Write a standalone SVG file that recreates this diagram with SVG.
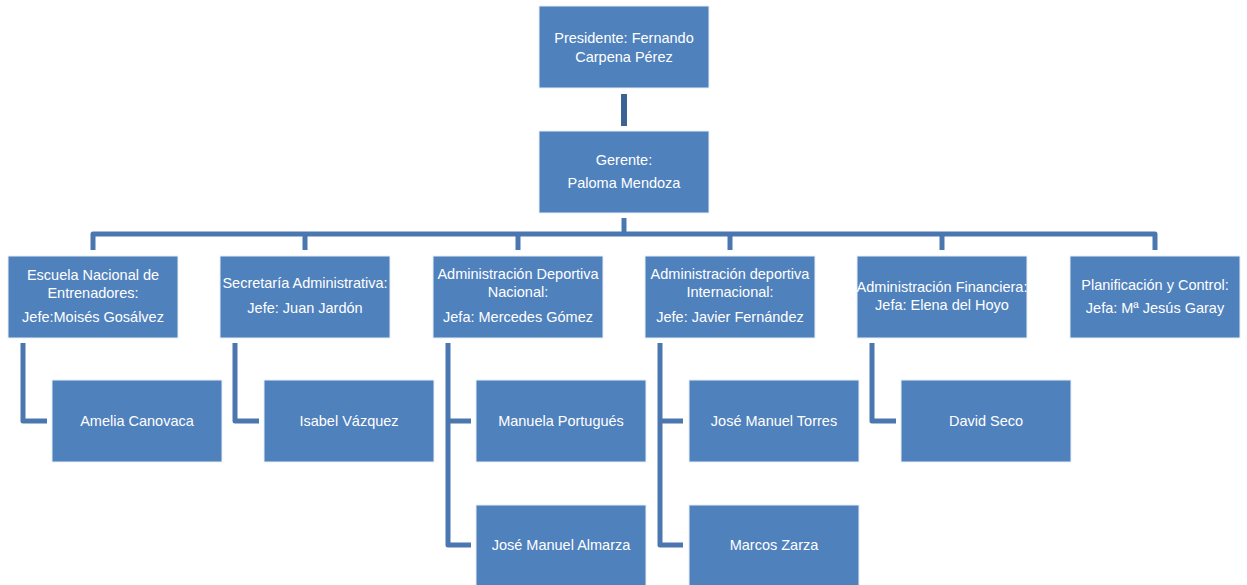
<svg xmlns="http://www.w3.org/2000/svg" width="1247" height="585" viewBox="0 0 1247 585">
<style>
.box{fill:#4f81bd;stroke:#e8eef7;stroke-width:1}
.t{font-family:"Liberation Sans",Arial,sans-serif;font-size:14.5px;fill:#ffffff;text-anchor:middle}
.c{fill:none;stroke:#4a77b0;stroke-width:5;stroke-linejoin:round}
.top{fill:none;stroke:#3b6396;stroke-width:6}
</style>
<rect width="1247" height="585" fill="#ffffff"/>
<g id="connectors">
<line class="top" x1="624" y1="94" x2="624" y2="126"/>
<line class="c" x1="624" y1="218" x2="624" y2="234"/>
<path class="c" d="M93 250 V234 H1155 V250"/>
<path class="c" d="M305 234 V250 M518 234 V250 M730 234 V250 M942 234 V250"/>
<path class="c" d="M23 343 V421 H47"/>
<path class="c" d="M235 343 V421 H259"/>
<path class="c" d="M448 343 V545 H471 M448 421 H471"/>
<path class="c" d="M660 343 V545 H683 M660 421 H683"/>
<path class="c" d="M872 343 V421 H896"/>
</g>
<g id="presidente"><rect class="box" x="539" y="6" width="170" height="82"/><text class="t" x="624" y="43">Presidente: Fernando</text><text class="t" x="624" y="62">Carpena Pérez</text></g>
<g id="gerente"><rect class="box" x="539" y="131" width="170" height="82"/><text class="t" x="624" y="165">Gerente:</text><text class="t" x="624" y="188">Paloma Mendoza</text></g>
<g id="escuela"><rect class="box" x="8" y="256" width="170" height="82"/><text class="t" x="93" y="280">Escuela Nacional de</text><text class="t" x="93" y="298">Entrenadores:</text><text class="t" x="93" y="322">Jefe:Moisés Gosálvez</text></g>
<g id="secretaria"><rect class="box" x="220" y="256" width="170" height="82"/><text class="t" x="305" y="288">Secretaría Administrativa:</text><text class="t" x="305" y="313">Jefe: Juan Jardón</text></g>
<g id="adn"><rect class="box" x="433" y="256" width="170" height="82"/><text class="t" x="518" y="279">Administración Deportiva</text><text class="t" x="518" y="297">Nacional:</text><text class="t" x="518" y="322">Jefa: Mercedes Gómez</text></g>
<g id="adi"><rect class="box" x="645" y="256" width="170" height="82"/><text class="t" x="730" y="279">Administración deportiva</text><text class="t" x="730" y="297">Internacional:</text><text class="t" x="730" y="322">Jefe: Javier Fernández</text></g>
<g id="financiera"><rect class="box" x="857" y="256" width="170" height="82"/><text class="t" x="942" y="292">Administración Financiera:</text><text class="t" x="942" y="310">Jefa: Elena del Hoyo</text></g>
<g id="planificacion"><rect class="box" x="1070" y="256" width="170" height="82"/><text class="t" x="1155" y="290">Planificación y Control:</text><text class="t" x="1155" y="313">Jefa: Mª Jesús Garay</text></g>
<g id="amelia"><rect class="box" x="52" y="380" width="170" height="82"/><text class="t" x="137" y="426">Amelia Canovaca</text></g>
<g id="isabel"><rect class="box" x="264" y="380" width="170" height="82"/><text class="t" x="349" y="426">Isabel Vázquez</text></g>
<g id="manuela"><rect class="box" x="476" y="380" width="170" height="82"/><text class="t" x="561" y="426">Manuela Portugués</text></g>
<g id="almarza"><rect class="box" x="476" y="505" width="170" height="82"/><text class="t" x="561" y="550">José Manuel Almarza</text></g>
<g id="torres"><rect class="box" x="689" y="380" width="170" height="82"/><text class="t" x="774" y="426">José Manuel Torres</text></g>
<g id="zarza"><rect class="box" x="689" y="505" width="170" height="82"/><text class="t" x="774" y="550">Marcos Zarza</text></g>
<g id="david"><rect class="box" x="901" y="380" width="170" height="82"/><text class="t" x="986" y="426">David Seco</text></g>
</svg>
